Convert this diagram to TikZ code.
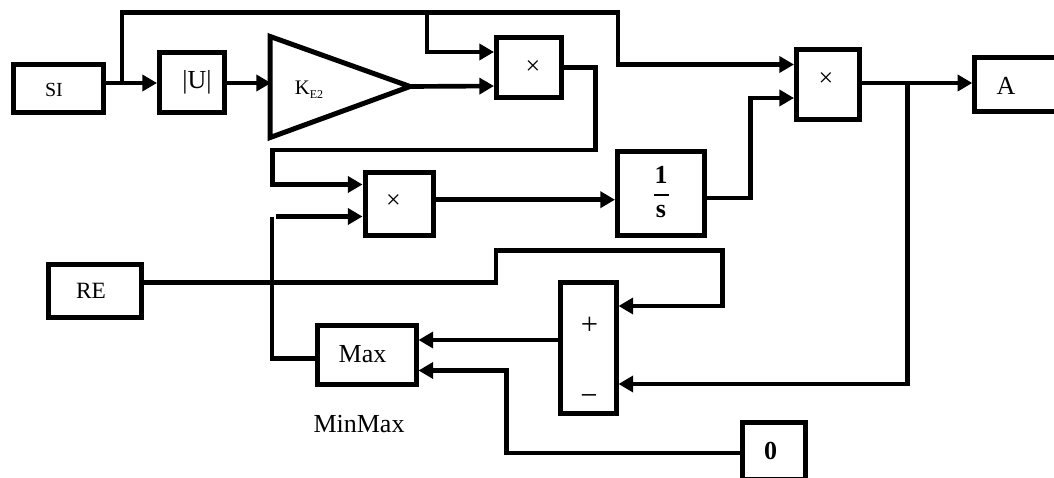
\documentclass[tikz,border=0pt]{standalone}
\usepackage{fontspec}
\setmainfont{Liberation Serif}
\usetikzlibrary{arrows.meta,calc}
\tikzset{
  blockbox/.style={draw=black,line width=3.75pt,fill=white,inner sep=0pt},
  px/.style 2 args={minimum width=#1*0.75pt,minimum height=#2*0.75pt},
  wire/.style={draw=black,line width=3.5pt,line join=miter},
  arrowwire/.style={wire,-{Triangle[length=11pt,width=12pt]}},
  lab/.style={inner sep=0pt,font=\fontsize{19.5pt}{22pt}\selectfont},
}
\begin{document}
\begin{tikzpicture}[x=0.75pt,y=-0.75pt]
\useasboundingbox (0,0) rectangle (1054,478);
\fill[white] (0,0) rectangle (1054,478);
% blocks
\node[blockbox,px={90.5}{48}] (si) at (58.25,88.5) {};
\node[blockbox,px={65}{60}] (abs) at (192,82.5) {};
\node[blockbox,px={65}{60}] (m1) at (529,67.5) {};
\node[blockbox,px={68}{62.5}] (m2) at (399,203.75) {};
\node[blockbox,px={87}{84}] (int) at (661,193.5) {};
\node[blockbox,px={63}{69.5}] (m3) at (828,84.75) {};
\node[blockbox,px={90}{54}] (a) at (1019.8,84.5) {};
\node[blockbox,px={93}{53}] (re) at (94.5,291) {};
\node[blockbox,px={98.5}{58.5}] (mx) at (366.75,354.75) {};
\node[blockbox,px={56}{131}] (sum) at (588,347.5) {};
\node[blockbox,px={62.7}{56.5}] (zero) at (773.85,450.75) {};
% triangle gain block
\coordinate (tl) at (270.2,36.5);
\coordinate (bl) at (270.2,137.5);
\coordinate (tip) at (410,86.5);
\draw[line width=3.75pt,line join=miter,miter limit=10] (tl) -- (bl) -- (tip) -- cycle;
% labels
\node[lab,font=\fontsize{15pt}{18pt}\selectfont] (tsi) at (54,90) {SI};
\node[lab] (tabs) at (197,82) {|U|};
\node[lab,font=\fontsize{15.5pt}{18pt}\selectfont] (tk) at (309,90) {K\raisebox{-3pt}{\fontsize{9pt}{10pt}\selectfont E2}};
\node[lab] (tm1) at (533,68) {×};
\node[lab] (tm2) at (393.5,202) {×};
\node[lab] (tm3) at (826,80) {×};
\node[lab] (ta) at (1006,85.5) {A};
\node[lab,font=\fontsize{17.5pt}{20pt}\selectfont] (tre) at (91,291) {RE};
\node[lab] (tmx) at (362.5,354.5) {Max};
\node[lab] (tmm) at (359,424) {MinMax};
\node[lab,font=\fontsize{23pt}{26pt}\selectfont] (tp) at (589.5,325.5) {+};
\node[lab,font=\fontsize{23pt}{26pt}\selectfont] (tn) at (589,400) {−};
\node[lab,font=\bfseries\fontsize{19.5pt}{22pt}\selectfont] (tz) at (770.7,450.7) {0};
\node[lab,font=\bfseries\fontsize{19.5pt}{22pt}\selectfont] (tone) at (661,175) {1};
\node[lab,font=\bfseries\fontsize{19.5pt}{22pt}\selectfont] (ts) at (661,212) {s};
\draw[line width=1.6pt] ($(int.center)+(-7.5,1.2)$) -- ($(int.center)+(7.5,1.2)$);
% junction coordinates
\coordinate (j1) at (122,83);
\coordinate (j2) at (427,12.5);
\coordinate (j3) at (907.5,83);
% connectors
\draw[arrowwire] (si.east |- j1) -- (abs.west |- j1);
\draw[arrowwire] (j1) -- (122,12.5) -- (618,12.5) -- (618,64.5) -- (m3.west |- 0,64.5);
\draw[arrowwire] (j2) -- (427,52) -- (m1.west |- 0,52);
\draw[arrowwire] (abs.east |- j1) -- (271,83);
\draw[arrowwire] (tip) -- (m1.west |- 0,86);
\draw[arrowwire] (m1.east |- 0,67.5) -- (595.5,67.5) -- (595.5,150) -- (272.5,150) -- (272.5,184.5) -- (m2.west |- 0,184.5);
\draw[arrowwire] (276,216.5) -- (m2.west |- 0,216.5);
\draw[wire] (272,217) -- (272,358.5) -- (mx.west |- 0,358.5);
\draw[arrowwire] (m2.east |- 0,199.7) -- (int.west |- 0,199.7);
\draw[arrowwire] (int.east |- 0,198) -- (750.5,198) -- (750.5,98) -- (m3.west |- 0,98);
\draw[arrowwire] (m3.east |- j3) -- (a.west |- j3);
\draw[arrowwire] (j3) -- (907.5,384) -- (sum.east |- 0,384);
\draw[arrowwire] (re.east |- 0,282.5) -- (496,282.5) -- (496,250.5) -- (722.5,250.5) -- (722.5,306) -- (sum.east |- 0,306);
\draw[arrowwire] (sum.west |- 0,340) -- (mx.east |- 0,340);
\draw[arrowwire] (zero.west |- 0,453) -- (506.5,453) -- (506.5,370.5) -- (mx.east |- 0,370.5);
\end{tikzpicture}
\end{document}
